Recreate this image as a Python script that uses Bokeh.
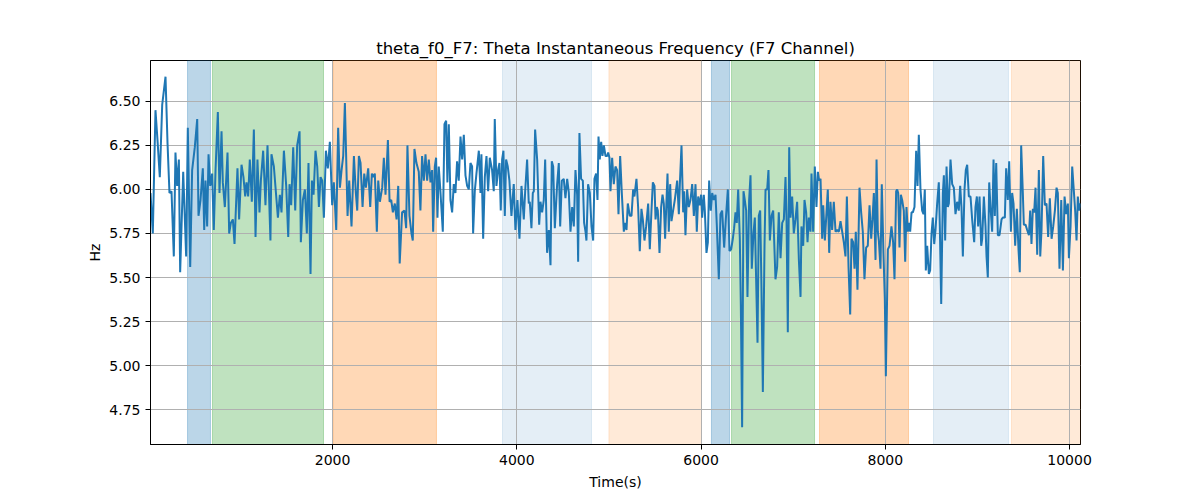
from bokeh.plotting import figure
from bokeh.models import BoxAnnotation, FixedTicker, PrintfTickFormatter, Range1d
from bokeh.embed import file_html
from bokeh.resources import INLINE

# ---- data ----
time_s = [
    24, 49, 78, 100, 125, 151, 187, 209, 230, 252, 277, 295, 313, 332, 346, 379, 411, 429, 455, 476,
    505, 531, 545, 567, 592, 607, 621, 639, 654, 672, 693, 711, 730, 755, 773, 795, 809, 831, 860, 878,
    896, 918, 936, 968, 986, 1012, 1033, 1052, 1066, 1084, 1102, 1124, 1146, 1164, 1185, 1207, 1222, 1247, 1272, 1294,
    1326, 1337, 1363,
    1407, 1428, 1446, 1472, 1497, 1519, 1533, 1551, 1573, 1595, 1616, 1642, 1656, 1678, 1700, 1721, 1739, 1761, 1776, 1794,
    1815, 1834, 1852, 1870, 1888, 1906, 1928, 1949, 1971, 1996, 2014, 2040, 2061, 2080, 2098, 2116, 2134, 2163, 2181, 2206,
    2232, 2253, 2268, 2286, 2304, 2326, 2344, 2362, 2387, 2409, 2427, 2445, 2459, 2481, 2496, 2514, 2539, 2557, 2575, 2601,
    2619, 2637, 2655, 2676, 2695,
    2713, 2729, 2755, 2781, 2799, 2813, 2835, 2857, 2871, 2889, 2911, 2936, 2954, 2972, 2991, 3009, 3027, 3045, 3063, 3081,
    3092, 3110, 3124, 3139, 3153, 3171, 3197, 3215, 3233, 3247, 3262, 3280, 3298, 3316, 3334, 3352, 3370, 3389, 3407, 3425,
    3443, 3461, 3479, 3497, 3515, 3526, 3544, 3562, 3588, 3606, 3616, 3635, 3653, 3671, 3689, 3707, 3732, 3750, 3761, 3779,
    3797, 3812, 3826, 3841, 3855, 3870, 3884, 3902, 3920, 3942, 3967, 3985, 4007, 4029, 4051,
    4076, 4091, 4112, 4130, 4141, 4159, 4174, 4185, 4199, 4221, 4243, 4257, 4275, 4293, 4308, 4329, 4348, 4366, 4380, 4395,
    4413, 4438, 4456, 4471, 4489, 4510, 4528, 4547, 4565, 4583, 4601, 4619, 4637, 4655, 4666, 4680, 4698, 4717, 4731, 4746,
    4756, 4774, 4793, 4811, 4829, 4843, 4861, 4876, 4887, 4901, 4916, 4930, 4945, 4963, 4981, 4992, 5006, 5017, 5035, 5053,
    5071, 5089, 5104, 5122, 5140, 5162, 5172, 5191, 5205, 5227, 5245, 5263, 5277, 5299, 5317, 5335, 5353, 5368, 5386, 5404,
    5426, 5444, 5462, 5477, 5495, 5506, 5520, 5531, 5549, 5567, 5582, 5596, 5610, 5621, 5636, 5650, 5665, 5679, 5697, 5715,
    5741, 5759, 5770, 5788, 5806, 5817, 5831, 5849, 5867, 5885, 5904, 5922, 5940, 5954, 5969, 5987, 6001, 6012, 6030, 6041,
    6059, 6074, 6088, 6106, 6121, 6139, 6157, 6171, 6193, 6211, 6229, 6251, 6269, 6291, 6309, 6327, 6345, 6359, 6374, 6388,
    6403, 6421, 6432, 6446, 6461, 6475, 6490, 6504, 6522, 6537, 6551, 6569, 6584, 6595, 6613, 6627, 6642, 6656, 6671, 6689,
    6700, 6718, 6732, 6747, 6765, 6783,
    6808, 6826, 6844, 6863, 6881, 6899, 6917, 6928, 6942, 6957, 6971, 6989, 7007, 7025, 7043, 7062, 7080, 7090, 7109, 7123,
    7141, 7156, 7170, 7188, 7199, 7217, 7235, 7253, 7268, 7282, 7297, 7315, 7326, 7344, 7362, 7376, 7391, 7405, 7423, 7441,
    7460, 7478, 7496, 7514, 7532, 7550, 7568, 7583, 7601, 7619, 7633, 7651, 7666, 7680, 7698, 7720, 7738, 7756, 7774, 7792,
    7810, 7829, 7847, 7861, 7876, 7894, 7905, 7919, 7930, 7948, 7962, 7980, 7995, 8006, 8028, 8046, 8067, 8085, 8100, 8118,
    8129, 8140, 8154, 8169, 8183, 8201, 8216, 8230, 8245, 8256, 8270, 8285, 8299, 8317, 8335, 8350, 8364, 8382, 8400, 8415,
    8429, 8440, 8455, 8473, 8487, 8502, 8516, 8531, 8545, 8563, 8581, 8592, 8607, 8625, 8636, 8650, 8665, 8679, 8690, 8708,
    8726, 8744, 8762, 8780, 8798, 8813, 8827, 8842, 8860, 8874, 8889, 8907, 8925, 8943, 8965, 8979, 8994, 9008, 9023, 9041,
    9052, 9070, 9088, 9099, 9113, 9128, 9142, 9160, 9175, 9189, 9204, 9222, 9240, 9262, 9276, 9298, 9312, 9330, 9345, 9363,
    9377, 9392, 9410, 9428, 9446, 9460, 9475, 9493, 9504,
    9522, 9540, 9559, 9573, 9587, 9602, 9616, 9631, 9649, 9667, 9682, 9696, 9714, 9732, 9750, 9768, 9786, 9805, 9823, 9841,
    9859, 9873, 9891, 9910, 9928, 9946, 9964, 9982, 9993, 10011, 10029, 10043, 10061, 10076, 10090, 10105, 10119,
]

freq_hz = [
    5.98, 5.75, 6.45, 6.28, 6.07, 6.48, 6.64, 6.26, 5.98, 5.99, 5.62, 6.21, 6.02, 6.17, 5.53, 6.10, 5.62, 6.35, 5.56, 6.11,
    6.24, 6.40, 5.85, 5.94, 6.12, 5.77, 6.05, 5.79, 6.20, 6.02, 6.09, 5.77, 6.11, 6.44, 5.98, 6.33, 6.04, 5.90, 6.21, 5.75,
    5.81, 5.83, 5.69, 6.12, 5.83, 6.14, 6.07, 5.96, 6.04, 5.96, 6.17, 5.93, 6.34, 5.73, 6.17, 5.87, 6.05, 6.22, 5.91, 6.25,
    5.71, 6.20, 6.13,
    5.84, 5.97, 5.87, 6.22, 6.02, 5.73, 6.03, 5.91, 6.24, 5.88, 6.25, 6.33, 5.70, 5.94, 6.00, 5.75, 6.15, 5.52, 6.05, 5.97,
    6.22, 6.13, 5.90, 6.07, 6.05, 5.84, 6.22, 6.12, 6.27, 5.91, 6.04, 5.77, 6.35, 6.01, 6.11, 6.19, 6.49, 5.85, 6.05, 5.79,
    6.19, 5.98, 5.88, 6.19, 6.15, 5.90, 6.09, 6.01, 6.12, 5.90, 6.09, 6.07, 6.09, 5.76, 6.05, 5.93, 6.01, 6.18, 5.97, 6.28,
    5.93, 5.94, 5.87, 5.92, 5.83,
    6.02, 5.58, 5.87, 5.88, 5.78, 6.25, 5.85, 5.75, 5.71, 6.23, 6.15, 6.10, 5.88, 6.19, 6.05, 6.20, 6.05, 6.17, 6.04, 6.11,
    5.76, 6.13, 6.18, 5.84, 6.13, 5.99, 5.76, 6.37, 6.39, 6.04, 6.37, 5.94, 5.87, 6.03, 5.98, 6.16, 6.05, 6.30, 6.17, 6.31,
    6.08, 6.02, 6.00, 6.15, 6.13, 5.75, 5.99, 6.09, 6.22, 5.98, 6.20, 5.72, 6.07, 6.19, 5.99, 6.18, 6.11, 5.99, 6.40, 6.02,
    6.11, 6.15, 5.88, 6.17, 6.22, 5.85, 6.17, 6.13, 6.05, 5.85, 6.03, 5.77, 5.94, 5.72, 6.02,
    5.83, 5.99, 6.17, 5.92, 5.93, 5.78, 5.98, 5.99, 6.34, 6.17, 5.80, 5.93, 5.87, 5.94, 6.17, 5.64, 5.77, 5.57, 6.16, 6.13,
    5.78, 6.03, 6.15, 5.79, 6.05, 6.06, 5.95, 6.06, 5.98, 5.76, 5.90, 5.79, 6.11, 5.97, 5.59, 6.32, 6.06, 6.05, 5.81, 5.76,
    5.71, 6.03, 5.98, 5.79, 5.71, 6.06, 6.09, 5.94, 6.30, 6.17, 6.27, 6.19, 6.25, 6.19, 6.19, 6.21, 6.18, 5.99, 6.18, 6.03,
    6.13, 6.11, 5.86, 6.19, 5.98, 5.76, 5.81, 5.77, 5.92, 5.85, 5.85, 6.00, 5.96, 6.06, 5.90, 5.65, 5.89, 5.83, 5.71, 5.79,
    5.92, 5.66, 5.88, 6.04, 6.02, 5.83, 5.90, 5.88, 5.64, 5.90, 5.97, 5.92, 5.72, 5.88, 6.09, 5.76, 6.03, 5.82, 5.88, 5.94,
    6.05, 5.86, 6.03, 6.25, 5.87, 5.99, 5.74, 6.00, 5.90, 5.94, 6.03, 5.85, 6.03, 5.76, 5.96, 5.91, 5.97, 5.84, 5.97, 5.88,
    5.64, 5.70, 6.05, 5.88, 5.98, 5.94, 5.97, 5.80, 5.49, 5.86, 5.88, 5.67, 5.83, 6.00, 5.65, 5.66, 5.72, 5.78, 5.87, 5.81,
    6.00, 5.72, 5.34, 4.65, 5.99, 5.94, 5.88, 5.39, 5.94, 6.08, 5.55, 5.75, 5.84, 5.56, 5.13, 5.85, 5.88, 5.44, 4.85, 5.68,
    6.00, 6.00, 6.11, 5.71, 5.85, 5.88,
    5.49, 5.56, 5.87, 5.61, 5.81, 5.83, 6.07, 5.83, 5.19, 6.24, 5.84, 5.96, 5.75, 5.83, 5.93, 5.60, 5.39, 5.79, 5.68, 5.94,
    5.87, 5.70, 5.84, 5.76, 6.09, 5.76, 6.13, 5.90, 6.10, 6.05, 6.06, 5.72, 5.91, 5.71, 5.87, 6.00, 5.64, 5.93, 5.77, 5.93,
    5.76, 5.77, 5.76, 5.82, 5.76, 5.70, 5.62, 5.96, 5.56, 5.29, 5.72, 5.70, 5.55, 5.76, 5.43, 6.01, 5.87, 5.76, 5.49, 5.67,
    5.68, 5.91, 5.72, 5.83, 5.98, 5.60, 6.17, 5.76, 5.71, 5.55, 6.03, 5.64, 5.38, 4.94, 5.66, 5.68, 5.79, 5.70, 5.49, 5.99,
    6.00, 5.98, 5.67, 5.97, 5.94, 5.88, 5.59, 5.90, 5.76, 5.81, 5.76, 5.87, 5.87, 5.90, 6.22, 6.02, 6.31, 6.00, 5.88, 5.86,
    6.00, 5.54, 5.68, 5.52, 5.54, 5.75, 5.84, 5.69, 5.77, 5.92, 6.04, 5.79, 5.35, 5.98, 6.08, 5.71, 6.13, 5.90, 5.92, 6.17,
    6.03, 6.01, 5.86, 5.93, 5.88, 6.02, 5.90, 5.62, 6.00, 6.11, 6.14, 5.96, 5.96, 5.83, 5.70, 5.90, 5.96, 5.79, 5.96, 5.68,
    5.72, 5.96, 5.79, 5.62, 5.50, 6.04, 5.90, 5.76, 6.17, 5.85, 6.15, 5.74, 5.74, 5.83, 5.84, 5.84, 6.12, 5.94, 6.16, 5.76,
    5.98, 5.92, 5.68, 5.89, 5.66, 5.53, 6.25, 5.98, 5.80,
    5.80, 5.77, 5.74, 5.88, 5.69, 5.89, 5.87, 6.01, 5.63, 6.11, 5.62, 5.77, 6.19, 5.91, 5.92, 5.73, 5.95, 5.72, 5.79, 5.88,
    6.01, 5.98, 5.55, 5.94, 5.54, 5.96, 5.86, 5.92, 5.61, 5.79, 6.13, 6.02, 5.88, 5.71, 5.96, 5.88, 5.92,
]

# shaded periods (start, end, kind)
span_start = [426, 697, 2010, 3845, 5000, 6113, 6331, 7286, 8523, 9370]
span_end = [675, 1902, 3128, 4811, 6005, 6309, 7232, 8252, 9337, 10119]
span_kind = ["blue", "green", "orange", "lightblue", "lightorange",
             "blue", "green", "orange", "lightblue", "lightorange"]

x_ticks = [2000, 4000, 6000, 8000, 10000]
y_ticks = [4.75, 5.00, 5.25, 5.50, 5.75, 6.00, 6.25, 6.50]

# ---- styles ----
kind_style = {
    "blue": ("#1f77b4", 0.30),
    "green": ("#2ca02c", 0.30),
    "orange": ("#ff7f0e", 0.30),
    "lightblue": ("#1f77b4", 0.12),
    "lightorange": ("#ff7f0e", 0.16),
}

FONT = "DejaVu Sans"

p = figure(
    width=1192, height=492,
    output_backend="svg", toolbar_location=None,
    x_range=Range1d(24, 10119), y_range=Range1d(4.552, 6.732),
    title="theta_f0_F7: Theta Instantaneous Frequency (F7 Channel)",
    x_axis_label="Time(s)", y_axis_label="Hz",
    min_border_left=150, min_border_right=112,
    min_border_top=60, min_border_bottom=47,
)
p.background_fill_color = "white"
p.border_fill_color = "white"

for s, e, k in zip(span_start, span_end, span_kind):
    c, a = kind_style[k]
    p.add_layout(BoxAnnotation(left=s, right=e, fill_color=c, fill_alpha=a,
                               line_color=c, line_alpha=a, line_width=1, level="image"))

p.line(time_s, freq_hz, line_color="#1f77b4", line_width=2)

p.title.align = "center"
p.title.text_font = FONT
p.title.text_font_size = "16.5px"
p.title.text_font_style = "normal"
p.title.text_color = "black"
p.title.standoff = 6

p.xaxis.ticker = FixedTicker(ticks=x_ticks)
p.yaxis.ticker = FixedTicker(ticks=y_ticks)
p.yaxis.formatter = PrintfTickFormatter(format="%.2f")

for ax in (p.xaxis, p.yaxis):
    ax.axis_line_color = "black"
    ax.major_tick_line_color = "black"
    ax.major_tick_in = 0
    ax.major_tick_out = 5
    ax.minor_tick_line_color = None
    ax.major_label_text_font = FONT
    ax.major_label_text_font_size = "14px"
    ax.major_label_text_color = "black"
    ax.major_label_standoff = 5
    ax.axis_label_text_font = FONT
    ax.axis_label_text_font_size = "14px"
    ax.axis_label_text_font_style = "normal"
    ax.axis_label_text_color = "black"
p.xaxis.axis_label_standoff = 6
p.yaxis.axis_label_standoff = 3

p.xgrid.grid_line_color = "#b0b0b0"
p.ygrid.grid_line_color = "#b0b0b0"
p.xgrid.grid_line_width = 1
p.ygrid.grid_line_width = 1

p.outline_line_color = "black"
p.outline_line_alpha = 1
p.outline_line_width = 1

open("out.html", "w").write(file_html(p, INLINE))
